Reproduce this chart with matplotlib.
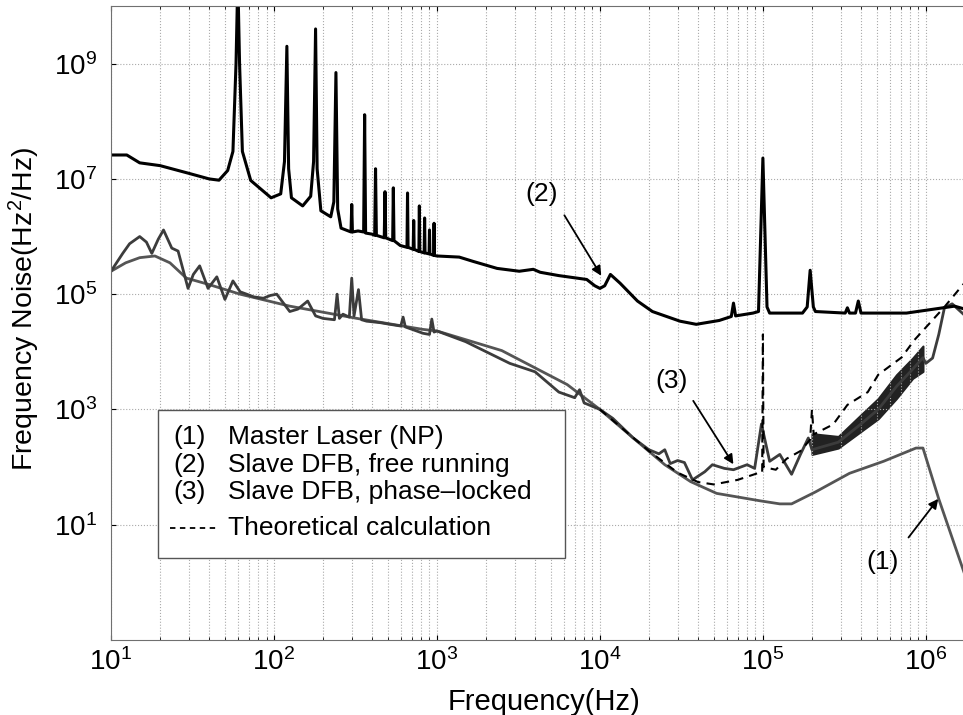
import matplotlib.pyplot as plt
from matplotlib.patches import Rectangle
from matplotlib.lines import Line2D

plt.rcParams['font.family'] = ['Liberation Sans', 'DejaVu Sans']
plt.rcParams['mathtext.fontset'] = 'custom'
plt.rcParams['mathtext.rm'] = 'Liberation Sans'
plt.rcParams['mathtext.it'] = 'Liberation Sans:italic'
plt.rcParams['mathtext.bf'] = 'Liberation Sans:bold'

# (1) Master laser (NP)
f_master = [10, 12.3, 15, 18.6, 23, 29, 39, 62, 125, 323, 820, 1000, 2500, 6300,
            1e4, 1.6e4, 2.5e4, 3.6e4, 5.2e4, 9.6e4, 1.27e5, 1.5e5, 2.1e5, 3.4e5,
            5.5e5, 8.7e5, 9.6e5, 1.2e6, 1.8e6]
s_master = [2.5e5, 3.5e5, 4.3e5, 4.6e5, 3.5e5, 1.9e5, 1.5e5, 1.0e5, 6.2e4, 3.8e4,
            2.45e4, 2.3e4, 1.05e4, 2.7e3, 1.0e3, 3.2e2, 1.1e2, 56, 35, 26, 23, 23,
            37, 78, 126, 214, 214, 28, 1.0]

# (2) Slave DFB, free running
f_free = [10, 12.5, 15, 20, 30, 40, 46, 52, 56, 58.5, 60, 61.5, 64, 72, 96,
          110, 116, 120, 123, 128, 150, 168, 175, 180, 184, 194, 223, 233, 240,
          246, 258, 297, 300, 303, 328, 355, 360, 365, 400, 415, 420, 425,
          475, 480, 485, 535, 540, 545, 595, 655, 660, 665, 715, 720, 725,
          775, 780, 785, 835, 840, 845, 895, 900, 905, 955, 960, 965, 1000,
          1370, 1670, 2340, 3200, 3900, 4300, 5600, 8300, 9300, 1.0e4, 1.07e4,
          1.16e4, 1.33e4, 1.7e4, 2.1e4, 3.1e4, 3.9e4, 5.4e4, 6.4e4, 6.6e4,
          6.8e4, 8.7e4, 9.4e4, 1.0e5, 1.06e5, 1.1e5, 1.75e5, 1.87e5, 1.95e5,
          2.04e5, 2.1e5, 3.2e5, 3.3e5, 3.4e5, 3.7e5, 3.85e5, 4.0e5, 7.6e5,
          1.5e6, 1.7e6]
s_free = [2.6e7, 2.6e7, 1.9e7, 1.7e7, 1.25e7, 1.0e7, 9.5e6, 1.4e7, 3e7, 1e9,
          3e10, 1e9, 3e7, 9.4e6, 4.7e6, 5.5e6, 2e7, 2e9, 1.5e7, 4.7e6, 3.4e6,
          5e6, 2e7, 4e9, 1.5e7, 2.8e6, 2.2e6, 4e6, 7e8, 3e6, 1.4e6, 1.2e6,
          3.6e6, 1.2e6, 1.25e6, 1.2e6, 1.3e8, 1.15e6, 1.1e6, 1.05e6, 1.5e7,
          1.05e6, 9.5e5, 6e6, 9.5e5, 8.5e5, 7e6, 8.5e5, 7e5, 6.5e5, 5.7e6,
          6.5e5, 6e5, 1.9e6, 6e5, 5.5e5, 3.4e6, 5.5e5, 5.2e5, 2.1e6, 5.2e5,
          5e5, 1.3e6, 5e5, 4.7e5, 1.7e6, 4.7e5, 4.6e5,
          4.4e5, 3.7e5, 2.8e5, 2.5e5, 2.7e5, 2.4e5, 2.1e5, 1.8e5, 1.4e5,
          1.26e5, 1.4e5, 2.2e5, 1.55e5, 7.6e4, 5e4, 3.4e4, 3.0e4, 3.5e4,
          4.1e4, 7e4, 4.2e4, 4.7e4, 5e4, 2.3e7, 6e4, 4.7e4, 4.7e4, 6e4, 2.6e5,
          6e4, 5e4, 4.7e4, 5.8e4, 4.7e4, 4.7e4, 7.6e4, 4.7e4, 4.7e4, 6.2e4,
          5.6e4]

# (3) Slave DFB, phase-locked
f_locked = [10, 11.8, 13, 15, 16.5, 17.8, 19.5, 21, 23.6, 25.8, 29.7, 32, 35,
            39.4, 44.6, 50, 56, 62, 68, 75, 86, 95, 104, 125, 140, 161, 180,
            200, 235, 244, 252, 265, 290, 300, 310, 330, 345, 370, 450, 514,
            600, 620, 640, 820, 900, 930, 960, 1000, 1500, 2800, 4000, 5600,
            7000, 7500, 8000, 1e4, 1.2e4, 1.6e4, 2.0e4, 2.3e4, 2.5e4, 2.7e4,
            3.0e4, 3.3e4, 3.7e4, 4.4e4, 4.9e4, 5.8e4, 6.6e4, 8e4, 8.9e4, 9.8e4,
            1.1e5, 1.27e5, 1.5e5, 1.7e5, 1.9e5, 2.0e5, 2.9e5, 4.0e5, 5.1e5,
            6.6e5, 8.3e5, 9.6e5, 1.0e6, 1.1e6, 1.2e6, 1.3e6, 1.45e6, 1.7e6]
s_locked = [2.5e5, 5.1e5, 7.5e5, 1.0e6, 8e5, 5.1e5, 9e5, 1.3e6, 6.3e5, 5.6e5,
            1.26e5, 2.2e5, 3.1e5, 1.26e5, 2.0e5, 8.1e4, 1.7e5, 1.1e5, 1.0e5,
            9e4, 8.5e4, 9.5e4, 1.0e5, 5.0e4, 5.5e4, 7.6e4, 4.2e4, 3.8e4, 3.6e4,
            1.0e5, 3.8e4, 4.5e4, 4.0e4, 1.9e5, 4.2e4, 1.2e5, 3.6e4, 3.4e4,
            3.2e4, 3.0e4, 2.8e4, 4.0e4, 2.7e4, 2.1e4, 2.0e4, 3.7e4, 2.2e4,
            2.3e4, 1.5e4, 6.3e3, 4.5e3, 2.0e3, 1.6e3, 2.2e3, 1.3e3, 1.0e3,
            7e2, 3.2e2, 2.0e2, 1.7e2, 2.0e2, 1.15e2, 1.3e2, 1.2e2, 60, 83, 110,
            95, 90, 110, 95, 5.6e2, 1.26e2, 1.66e2, 75, 1.66e2, 3.2e2, 2.0e2,
            2.7e2, 5.6e2, 1.0e3, 2.5e3, 5.0e3, 7.9e3, 6.3e3, 7.8e3, 2.0e4,
            5.8e4, 6.8e4, 4.5e4]

# noisy band of (3) between 200 kHz and 1 MHz
f_band = [2.0e5, 2.9e5, 4.0e5, 5.1e5, 6.6e5, 8.3e5, 9.6e5]
band_hi = [380, 340, 810, 1550, 4000, 7800, 1.26e4]
band_lo = [166, 214, 417, 690, 1550, 3470, 4570]

# theoretical calculation
f_theory = [1e4, 2e4, 3e4, 4e4, 5e4, 7e4, 9.5e4, 9.9e4, 1.0e5, 1.01e5, 1.2e5,
            1.4e5, 1.7e5, 1.95e5, 2.0e5, 2.05e5, 2.7e5, 3.3e5, 4.4e5, 5.1e5,
            7.1e5, 8.5e5, 1.3e6, 1.7e6]
s_theory = [1.0e3, 1.9e2, 80, 55, 50, 60, 80, 80, 2e4, 100, 90, 140, 190, 300,
            1.0e3, 370, 550, 1.2e3, 2.0e3, 4.0e3, 8e3, 1.6e4, 6e4, 1.5e5]

legend_num = ['(1)', '(2)', '(3)']
legend_text = ['Master Laser (NP)', 'Slave DFB, free running',
               'Slave DFB, phase\u2013locked']

fig = plt.figure(figsize=(9.63, 7.15), dpi=100)
ax = fig.add_axes([111 / 963, 1 - 640 / 715, 852 / 963, 634 / 715])
ax.set_xscale('log')
ax.set_yscale('log')

ax.plot(f_master, s_master, color='#555555', lw=2)
ax.plot(f_locked, s_locked, color='#3c3c3c', lw=2)
ax.fill_between(f_band, band_lo, band_hi, color='#222222', lw=1.5)
ax.plot(f_free, s_free, color='black', lw=2.2)
ax.plot(f_theory, s_theory, color='black', lw=1.5, ls=(0, (4, 3)))

ax.set_xlim(10, 1.69e6)
ax.set_ylim(1e-1, 1e10)
ax.set_yticks([1e1, 1e3, 1e5, 1e7, 1e9])
ax.yaxis.set_minor_locator(plt.NullLocator())

ax.grid(True, which='both', axis='x', ls=':', color='#aaaaaa', lw=0.8)
ax.grid(True, which='major', axis='y', ls=':', color='#aaaaaa', lw=0.8)
ax.tick_params(which='both', direction='in', top=True, right=False, labelsize=20)
ax.tick_params(axis='x', pad=6)
ax.tick_params(axis='y', pad=10)
for sp in ax.spines.values():
    sp.set_color('#707070')
ax.spines['right'].set_visible(False)

ax.set_xlabel('Frequency(Hz)', fontsize=21)
ax.xaxis.set_label_coords(0.508, -0.075)
ax.set_ylabel('Frequency Noise(Hz$^2$/Hz)', fontsize=20.5)
ax.yaxis.set_label_coords(-0.081, 0.522)

# legend box drawn by hand
ax.add_patch(Rectangle((0.055, 0.129), 0.478, 0.234, transform=ax.transAxes,
                       facecolor='white', edgecolor='#555555', lw=1, zorder=5))
rows = [0.320, 0.276, 0.233]
for y, num, txt in zip(rows, legend_num, legend_text):
    ax.text(0.073, y, num, transform=ax.transAxes, fontsize=19, va='center', zorder=6)
    ax.text(0.137, y, txt, transform=ax.transAxes, fontsize=19, va='center', zorder=6)
ax.add_line(Line2D([0.069, 0.126], [0.177, 0.177], transform=ax.transAxes,
                   color='black', lw=1.3, ls=(0, (3, 2.5)), zorder=6))
ax.text(0.137, 0.177, 'Theoretical calculation', transform=ax.transAxes,
        fontsize=19, va='center', zorder=6)

# curve labels with arrows
arrow = dict(arrowstyle='-|>', color='black', lw=1.3, mutation_scale=14)
ax.annotate('', xy=(1.04e4, 1.9e5), xytext=(5.93e3, 2.57e6), arrowprops=arrow)
ax.text(4.4e3, 5.5e6, '(2)', fontsize=19, ha='center', va='center')
ax.annotate('', xy=(6.73e4, 102), xytext=(3.66e4, 1.55e3), arrowprops=arrow)
ax.text(2.77e4, 3.07e3, '(3)', fontsize=19, ha='center', va='center')
ax.annotate('', xy=(1.22e6, 30.7), xytext=(7.64e5, 5.5), arrowprops=arrow)
ax.text(5.45e5, 2.27, '(1)', fontsize=19, ha='center', va='center')

fig.savefig('out.png', dpi=100)
